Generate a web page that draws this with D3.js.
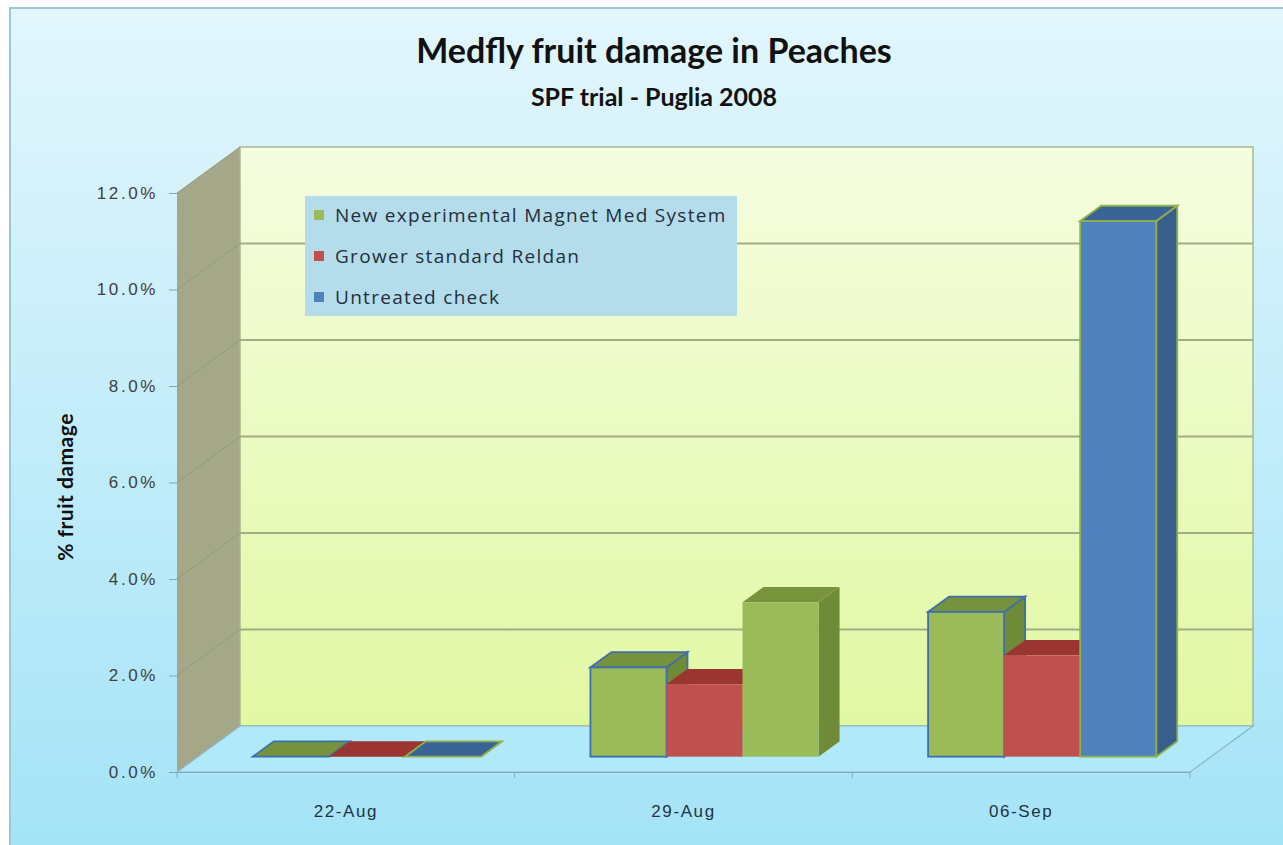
<!DOCTYPE html>
<html>
<head>
<meta charset="utf-8">
<script src="https://cdn.jsdelivr.net/npm/d3@7"></script>
<style>
  body { margin: 0; background: #fff; }
  svg { display: block; }
</style>
</head>
<body>
<svg id="chart"></svg>
<script>
const categories = ["22-Aug", "29-Aug", "06-Sep"]
const seriesNames = ["New experimental Magnet Med System", "Grower standard Reldan", "Untreated check"]
const magnetValues = [0, 0.0185, 0.030]
const reldanValues = [0, 0.015, 0.021]
const untreatedValues = [0, 0.032, 0.111]
const yTicks = [0, 0.02, 0.04, 0.06, 0.08, 0.10, 0.12]

const chart = { width: 1283, height: 845 }
// front plane of the 3D box
const plot = { left: 177, right: 1190, top: 193, bottom: 772 }
// full depth of the box (oblique offset)
const depth = { dx: 63, dy: -46 }

const colors = {
    green: { front: "#9bbb59", top: "#76923c", side: "#6f8b37", stroke: "#3e6fae" },
    red: { front: "#c0504d", top: "#9b3532", side: "#943431", stroke: "none" },
    blue: { front: "#4f81bd", top: "#3a6396", side: "#385f8c", stroke: "#8fb04c" },
    plainGreen: { front: "#9bbb59", top: "#77933c", side: "#6f8b37", stroke: "none" }
}
const seriesColor = ["green", "red", "blue"]
// the untreated bar on 29-Aug is filled green in the original
const pointColor = { "29-Aug|2": "plainGreen" }

const svg = d3.select("#chart")
    .attr("width", chart.width)
    .attr("height", chart.height)
    .style("font-family", "'DejaVu Sans', sans-serif")

const defs = svg.append("defs")
const bgGrad = defs.append("linearGradient").attr("id", "bgGrad")
    .attr("x1", 0).attr("y1", 0).attr("x2", 0).attr("y2", 1)
bgGrad.append("stop").attr("offset", "0%").attr("stop-color", "#e2f6fc")
bgGrad.append("stop").attr("offset", "100%").attr("stop-color", "#a3e3f7")
const wallGrad = defs.append("linearGradient").attr("id", "wallGrad")
    .attr("x1", 0).attr("y1", 0).attr("x2", 0).attr("y2", 1)
wallGrad.append("stop").attr("offset", "0%").attr("stop-color", "#f5fddf")
wallGrad.append("stop").attr("offset", "100%").attr("stop-color", "#e1f8a3")

// outer frame
svg.append("rect")
    .attr("x", 10).attr("y", 8)
    .attr("width", chart.width + 10).attr("height", chart.height + 10)
    .attr("fill", "url(#bgGrad)")
    .attr("stroke", "#9cc8d4")
    .attr("stroke-width", 2)

const x = d3.scaleBand()
    .domain(categories)
    .range([plot.left, plot.right])

const xSub = d3.scaleBand()
    .domain(d3.range(seriesNames.length))
    .range([0, x.bandwidth()])
    .paddingInner(0)
    .paddingOuter(0.72)

const y = d3.scaleLinear()
    .domain([0, 0.12])
    .range([plot.bottom, plot.top])

// project a point from the front plane back to depth fraction d
const px = (xv, d) => xv + depth.dx * d
const py = (yv, d) => yv + depth.dy * d
const pts = (arr) => arr.map(p => p.join(",")).join(" ")

// side wall
svg.append("polygon")
    .attr("points", pts([
        [plot.left, y(0.12)], [px(plot.left, 1), py(y(0.12), 1)],
        [px(plot.left, 1), py(y(0), 1)], [plot.left, y(0)]
    ]))
    .attr("fill", "#a5a789")

// back wall
svg.append("rect")
    .attr("x", px(plot.left, 1))
    .attr("y", py(y(0.12), 1))
    .attr("width", plot.right - plot.left)
    .attr("height", y(0) - y(0.12))
    .attr("fill", "url(#wallGrad)")
    .attr("stroke", "#aab88f")
    .attr("stroke-width", 1.5)

// floor
svg.append("polygon")
    .attr("points", pts([
        [plot.left, y(0)], [plot.right, y(0)],
        [px(plot.right, 1), py(y(0), 1)], [px(plot.left, 1), py(y(0), 1)]
    ]))
    .attr("fill", "#b0eafa")
    .attr("stroke", "#8fb4c2")
    .attr("stroke-width", 1.2)

// gridlines: diagonal on side wall, horizontal on back wall
const grid = svg.append("g")
grid.selectAll(".sideGrid")
    .data(yTicks.filter(t => t > 0))
    .enter()
    .append("line")
    .attr("x1", plot.left).attr("y1", d => y(d))
    .attr("x2", px(plot.left, 1)).attr("y2", d => py(y(d), 1))
    .attr("stroke", "#949a78")
    .attr("stroke-width", 1)
grid.selectAll(".backGrid")
    .data(yTicks.filter(t => t > 0 && t < 0.12))
    .enter()
    .append("line")
    .attr("x1", px(plot.left, 1)).attr("y1", d => py(y(d), 1))
    .attr("x2", px(plot.right, 1)).attr("y2", d => py(y(d), 1))
    .attr("stroke", "#a2ad84")
    .attr("stroke-width", 1.8)

// axes
const yAxis = svg.append("g")
    .attr("transform", "translate(" + plot.left + ",0)")
    .call(d3.axisLeft(y).tickValues(yTicks).tickFormat(d3.format(".1%")).tickSize(8).tickPadding(11))
yAxis.select(".domain").remove()
yAxis.selectAll("line").attr("stroke", "#8aa3ad")
yAxis.selectAll("text")
    .attr("fill", "#404040")
    .style("font-size", "17px")
    .style("letter-spacing", "2.6px")

const xAxis = svg.append("g")
    .attr("transform", "translate(0," + plot.bottom + ")")
    .call(d3.axisBottom(x).tickSize(0).tickPadding(33))
xAxis.select(".domain").attr("stroke", "#86a9b6").attr("stroke-width", 1.2)
xAxis.selectAll("text")
    .attr("fill", "#1f3345")
    .style("font-size", "17px")
    .style("letter-spacing", "1.6px")
xAxis.selectAll(".bandTick")
    .data(categories.map(c => x(c)).concat([plot.right]))
    .enter()
    .append("line")
    .attr("class", "bandTick")
    .attr("x1", d => d).attr("x2", d => d)
    .attr("y1", 0).attr("y2", 6)
    .attr("stroke", "#86a9b6")

// bars
const valuesBySeries = [magnetValues, reldanValues, untreatedValues]
const bars = []
categories.forEach((c, i) => {
    valuesBySeries.forEach((vals, s) => {
        bars.push({ cat: c, s: s, v: vals[i], color: colors[pointColor[c + "|" + s] || seriesColor[s]] })
    })
})

const d0 = 1 / 3, d1 = 2 / 3
const barG = svg.append("g")
const bar = barG.selectAll(".bar")
    .data(bars)
    .enter()
    .append("g")
    .attr("class", "bar")

bar.each(function (b) {
    const g = d3.select(this)
    const xl = x(b.cat) + xSub(b.s)
    const xr = xl + xSub.bandwidth()
    const yt = y(b.v)
    const yb = y(0)
    const sw = b.color.stroke === "none" ? 0 : 1.8
    // side
    g.append("polygon")
        .attr("points", pts([
            [px(xr, d0), py(yt, d0)], [px(xr, d1), py(yt, d1)],
            [px(xr, d1), py(yb, d1)], [px(xr, d0), py(yb, d0)]
        ]))
        .attr("fill", b.color.side)
        .attr("stroke", b.color.stroke).attr("stroke-width", sw)
    // top
    g.append("polygon")
        .attr("points", pts([
            [px(xl, d0), py(yt, d0)], [px(xr, d0), py(yt, d0)],
            [px(xr, d1), py(yt, d1)], [px(xl, d1), py(yt, d1)]
        ]))
        .attr("fill", b.color.top)
        .attr("stroke", b.color.stroke).attr("stroke-width", sw)
    // front
    if (b.v > 0) {
        g.append("rect")
            .attr("x", px(xl, d0))
            .attr("y", py(yt, d0))
            .attr("width", xr - xl)
            .attr("height", yb - yt)
            .attr("fill", b.color.front)
            .attr("stroke", b.color.stroke).attr("stroke-width", sw)
    }
})

// legend
const legend = svg.append("g").attr("transform", "translate(305,196)")
legend.append("rect")
    .attr("width", 432).attr("height", 120)
    .attr("fill", "#b5dcea")
const legendItem = legend.selectAll(".item")
    .data(seriesNames)
    .enter()
    .append("g")
    .attr("transform", (d, i) => "translate(0," + (19 + i * 41) + ")")
legendItem.append("rect")
    .attr("x", 9).attr("y", -5)
    .attr("width", 10).attr("height", 10)
    .attr("fill", (d, i) => colors[seriesColor[i]].front)
legendItem.append("text")
    .attr("x", 30).attr("y", 7)
    .text(d => d)
    .attr("fill", "#22303e")
    .style("font-family", "'Open Sans', sans-serif")
    .style("font-size", "19px")
    .style("letter-spacing", "1.3px")

// titles
svg.append("text")
    .attr("x", 654).attr("y", 63)
    .attr("text-anchor", "middle")
    .text("Medfly fruit damage in Peaches")
    .style("font-family", "Lato, sans-serif")
    .style("font-weight", "bold")
    .style("font-size", "34px")
    .attr("fill", "#111")
svg.append("text")
    .attr("x", 654).attr("y", 106)
    .attr("text-anchor", "middle")
    .text("SPF trial - Puglia 2008")
    .style("font-family", "Lato, sans-serif")
    .style("font-weight", "bold")
    .style("font-size", "25px")
    .attr("fill", "#111")
svg.append("text")
    .attr("transform", "translate(73,487) rotate(-90)")
    .attr("text-anchor", "middle")
    .text("% fruit damage")
    .style("font-family", "Lato, sans-serif")
    .style("font-weight", "bold")
    .style("font-size", "21px")
    .style("letter-spacing", "0.5px")
    .attr("fill", "#111")
</script>
</body>
</html>
